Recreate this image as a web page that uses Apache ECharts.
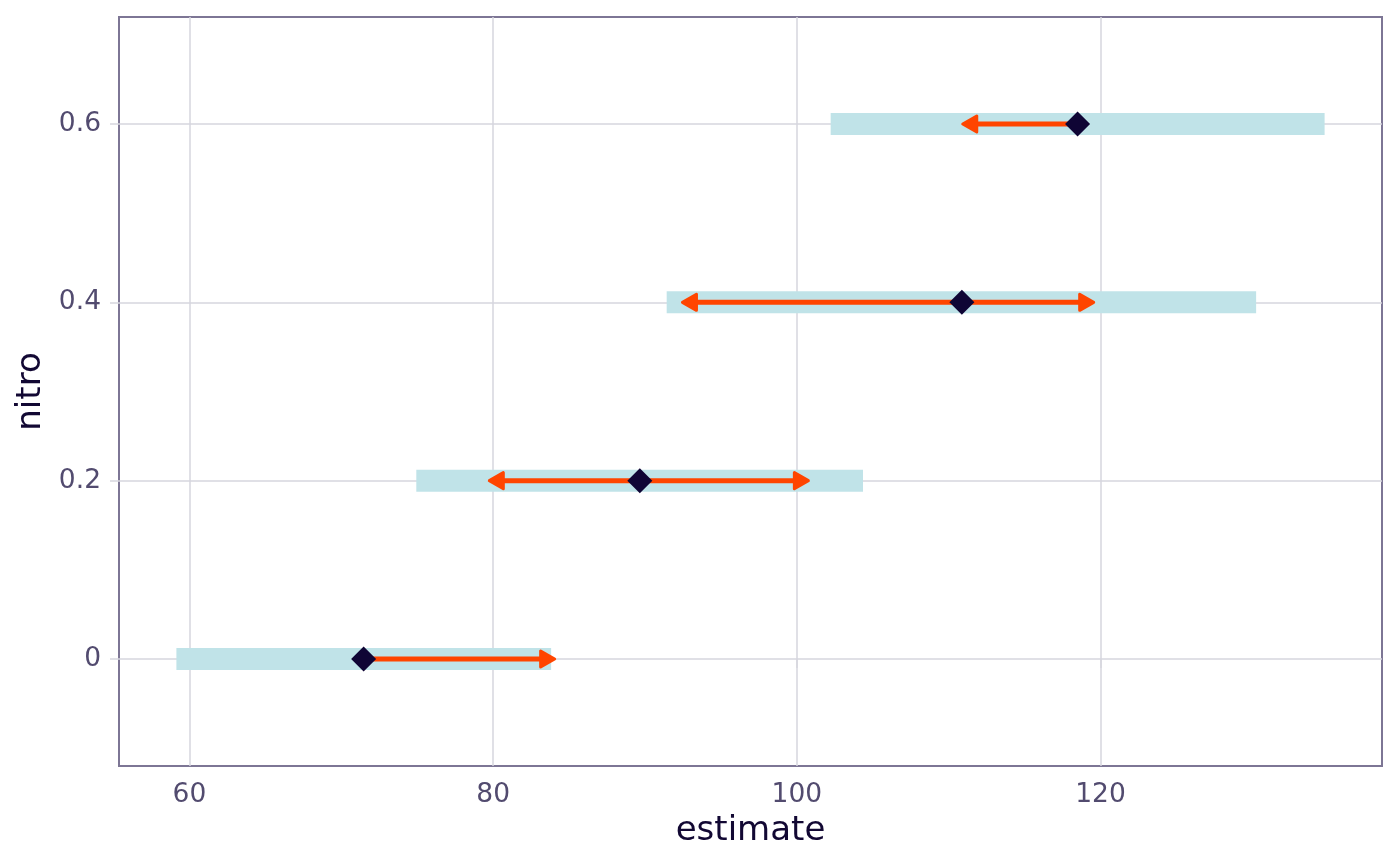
<!DOCTYPE html>
<html>
<head>
<meta charset="utf-8">
<title>estimate by nitro</title>
<script src="https://cdn.jsdelivr.net/npm/echarts@6/dist/echarts.min.js"></script>
<style>
  html, body { margin: 0; padding: 0; background: #fff; }
  #chart { width: 1400px; height: 866px; }
</style>
</head>
<body>
<div id="chart"></div>
<script>
// 数据
const nitro = [0, 0.2, 0.4, 0.6];
const estimate = [71.47, 89.66, 110.87, 118.49];
const bandLow = [59.14, 74.94, 91.43, 102.23];
const bandHigh = [83.82, 104.36, 130.25, 134.76];
const arrowLeft = [null, 79.65, 92.37, 110.83];
const arrowRight = [84.15, 100.86, 119.65, null];
const xTicks = [60, 80, 100, 120];
const yTicks = [0, 0.2, 0.4, 0.6];

const FONT = 'DejaVu Sans';
const GRID_COLOR = '#d6d6de';
const BORDER_COLOR = '#7d7695';
const LABEL_COLOR = '#524b6f';
const TITLE_COLOR = '#120833';
const BAND_COLOR = '#c0e3e8';
const ARROW_COLOR = '#ff4500';
const POINT_COLOR = '#0f0535';

const bandData = nitro.map((y, i) => [bandLow[i], bandHigh[i], y]);

// 每条箭头：起点（估计值）、终点、y
const arrowData = [];
nitro.forEach((y, i) => {
    if (arrowLeft[i] !== null) arrowData.push([estimate[i], arrowLeft[i], y]);
    if (arrowRight[i] !== null) arrowData.push([estimate[i], arrowRight[i], y]);
});

const chart = echarts.init(document.getElementById('chart'));

const option = {
    backgroundColor: '#fff',
    animation: false,
    grid: {
        left: 119,
        right: 18,
        top: 17,
        bottom: 100,
        show: true,
        borderColor: BORDER_COLOR,
        borderWidth: 2,
        backgroundColor: '#fff'
    },
    xAxis: {
        type: 'value',
        min: 55.36,
        max: 138.54,
        name: 'estimate',
        nameLocation: 'middle',
        nameGap: 44,
        nameTextStyle: { fontFamily: FONT, fontSize: 34, color: TITLE_COLOR },
        axisLine: { show: false },
        axisTick: {
            show: true, length: 9, customValues: xTicks,
            lineStyle: { color: GRID_COLOR, width: 1.5 }
        },
        axisLabel: {
            customValues: xTicks, margin: 16,
            fontFamily: FONT, fontSize: 26.5, color: LABEL_COLOR
        },
        splitLine: { show: true, lineStyle: { color: GRID_COLOR, width: 1.5 } }
    },
    yAxis: {
        type: 'value',
        min: -0.12,
        max: 0.72,
        name: 'nitro',
        nameLocation: 'middle',
        nameGap: 70,
        nameRotate: 90,
        nameTextStyle: { fontFamily: FONT, fontSize: 34, color: TITLE_COLOR },
        axisLine: { show: false },
        axisTick: {
            show: true, length: 9, customValues: yTicks,
            lineStyle: { color: GRID_COLOR, width: 1.5 }
        },
        axisLabel: {
            customValues: yTicks, margin: 18, padding: [6, 0, 0, 0],
            fontFamily: FONT, fontSize: 26.5, color: LABEL_COLOR
        },
        splitLine: { show: true, lineStyle: { color: GRID_COLOR, width: 1.5 } }
    },
    series: [
        {
            name: 'band',
            type: 'custom',
            data: bandData,
            encode: { x: [0, 1], y: 2 },
            renderItem: (params, api) => {
                const p0 = api.coord([api.value(0), api.value(2)]);
                const p1 = api.coord([api.value(1), api.value(2)]);
                return {
                    type: 'rect',
                    shape: { x: p0[0], y: p0[1] - 11, width: p1[0] - p0[0], height: 22 },
                    style: { fill: BAND_COLOR }
                };
            },
            z: 1
        },
        {
            name: 'arrow',
            type: 'custom',
            data: arrowData,
            encode: { x: [0, 1], y: 2 },
            renderItem: (params, api) => {
                const start = api.coord([api.value(0), api.value(2)]);
                const end = api.coord([api.value(1), api.value(2)]);
                const d = end[0] > start[0] ? 1 : -1;
                const tipX = end[0] - d * 1.5;
                const headLen = 14;
                const halfW = 8;
                const y = end[1];
                return {
                    type: 'group',
                    children: [
                        {
                            type: 'line',
                            shape: { x1: start[0], y1: y, x2: tipX - d * headLen * 0.6, y2: y },
                            style: { stroke: ARROW_COLOR, lineWidth: 5 }
                        },
                        {
                            type: 'polygon',
                            shape: {
                                points: [
                                    [tipX, y],
                                    [tipX - d * headLen, y - halfW],
                                    [tipX - d * headLen, y + halfW]
                                ]
                            },
                            style: { fill: ARROW_COLOR, stroke: ARROW_COLOR, lineWidth: 3, lineJoin: 'round' }
                        }
                    ]
                };
            },
            z: 2
        },
        {
            name: 'estimate',
            type: 'scatter',
            data: nitro.map((y, i) => [estimate[i], y]),
            symbol: 'diamond',
            symbolSize: 25,
            itemStyle: { color: POINT_COLOR, opacity: 1 },
            z: 3
        }
    ]
};

chart.setOption(option);
</script>
</body>
</html>
